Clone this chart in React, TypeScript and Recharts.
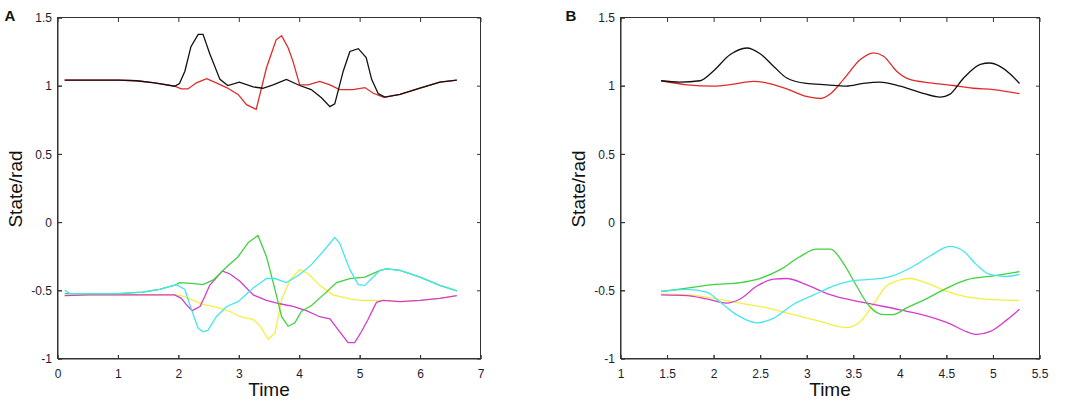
import React from 'react';
import { LineChart, Line, XAxis, YAxis, CartesianGrid } from 'recharts';

type P = [number, number];

// ---------- Panel A ----------
const A_X_TICKS = [0, 1, 2, 3, 4, 5, 6, 7];
const Y_TICKS = [-1, -0.5, 0, 0.5, 1, 1.5];

const A_BLACK: P[] = [
  [0.11, 1.045], [0.5, 1.045], [1.0, 1.045], [1.3, 1.04], [1.6, 1.025], [1.93, 1.0],
  [2.01, 1.02], [2.1, 1.11], [2.2, 1.29], [2.32, 1.38], [2.4, 1.38], [2.51, 1.24],
  [2.68, 1.05], [2.81, 1.005], [3.0, 1.03], [3.23, 0.995], [3.39, 0.985], [3.56, 1.01],
  [3.78, 1.05], [4.0, 1.005], [4.19, 0.975], [4.36, 0.915], [4.5, 0.85], [4.58, 0.87],
  [4.72, 1.11], [4.83, 1.255], [4.97, 1.275], [5.1, 1.21], [5.19, 1.05], [5.3, 0.945],
  [5.41, 0.92], [5.66, 0.94], [5.99, 0.985], [6.32, 1.03], [6.6, 1.045],
];
const A_RED: P[] = [
  [0.11, 1.045], [0.5, 1.045], [1.0, 1.045], [1.3, 1.04], [1.6, 1.025], [1.93, 1.0],
  [2.04, 0.98], [2.15, 0.98], [2.29, 1.025], [2.46, 1.055], [2.62, 1.025], [2.79, 0.99],
  [2.98, 0.94], [3.12, 0.865], [3.28, 0.83], [3.45, 1.135], [3.61, 1.34], [3.7, 1.37],
  [3.81, 1.28], [3.89, 1.18], [4.0, 1.01], [4.14, 1.01], [4.33, 1.035], [4.5, 1.01],
  [4.66, 0.975], [4.88, 0.975], [5.08, 0.99], [5.21, 0.95], [5.38, 0.92], [5.41, 0.92],
  [5.66, 0.94], [5.99, 0.985], [6.32, 1.03], [6.6, 1.045],
];
const A_CYAN: P[] = [
  [0.11, -0.497], [0.2, -0.52], [1.0, -0.52], [1.4, -0.51], [1.68, -0.49], [1.96, -0.455],
  [2.1, -0.49], [2.21, -0.64], [2.32, -0.775], [2.4, -0.8], [2.48, -0.79], [2.62, -0.69],
  [2.79, -0.615], [2.98, -0.58], [3.23, -0.48], [3.45, -0.41], [3.59, -0.41], [3.78, -0.44],
  [4.0, -0.38], [4.19, -0.31], [4.39, -0.21], [4.58, -0.11], [4.66, -0.15], [4.83, -0.345],
  [4.97, -0.455], [5.08, -0.46], [5.19, -0.41], [5.33, -0.35], [5.44, -0.34], [5.66, -0.35],
  [5.99, -0.4], [6.32, -0.46], [6.6, -0.5],
];
const A_GREEN: P[] = [
  [0.11, -0.52], [1.0, -0.52], [1.4, -0.51], [1.68, -0.49], [1.96, -0.455], [2.01, -0.44],
  [2.21, -0.445], [2.4, -0.455], [2.57, -0.42], [2.79, -0.325], [2.98, -0.25], [3.15, -0.145],
  [3.31, -0.095], [3.45, -0.25], [3.59, -0.49], [3.7, -0.69], [3.81, -0.76], [3.92, -0.735],
  [4.03, -0.65], [4.19, -0.61], [4.39, -0.53], [4.61, -0.44], [4.83, -0.41], [5.08, -0.4],
  [5.33, -0.35], [5.44, -0.34], [5.66, -0.35], [5.99, -0.4], [6.32, -0.46], [6.6, -0.5],
];
const A_YELLOW: P[] = [
  [0.11, -0.535], [0.5, -0.53], [1.0, -0.53], [1.5, -0.53], [1.93, -0.53], [2.04, -0.535],
  [2.21, -0.565], [2.4, -0.6], [2.62, -0.62], [2.84, -0.65], [3.01, -0.69], [3.23, -0.71],
  [3.34, -0.755], [3.48, -0.855], [3.59, -0.81], [3.7, -0.565], [3.84, -0.42], [4.0, -0.345],
  [4.14, -0.375], [4.33, -0.46], [4.55, -0.53], [4.83, -0.56], [5.0, -0.57], [5.27, -0.57],
  [5.38, -0.57], [5.66, -0.58], [5.99, -0.57], [6.32, -0.555], [6.6, -0.535],
];
const A_MAGENTA: P[] = [
  [0.11, -0.535], [0.5, -0.53], [1.0, -0.53], [1.5, -0.53], [1.93, -0.53], [2.04, -0.555],
  [2.12, -0.6], [2.22, -0.645], [2.35, -0.615], [2.43, -0.54], [2.51, -0.46], [2.62, -0.405],
  [2.72, -0.355], [2.84, -0.375], [3.01, -0.43], [3.23, -0.53], [3.45, -0.57], [3.67, -0.595],
  [3.89, -0.615], [4.11, -0.645], [4.33, -0.69], [4.5, -0.705], [4.66, -0.8], [4.8, -0.88],
  [4.91, -0.88], [5.02, -0.8], [5.13, -0.71], [5.27, -0.585], [5.38, -0.57], [5.66, -0.58],
  [5.99, -0.57], [6.32, -0.555], [6.6, -0.535],
];

// ---------- Panel B ----------
const B_X_TICKS = [1, 1.5, 2, 2.5, 3, 3.5, 4, 4.5, 5, 5.5];

const B_BLACK: P[] = [
  [1.43, 1.04], [1.63, 1.03], [1.85, 1.04], [1.99, 1.11], [2.17, 1.23], [2.35, 1.28],
  [2.49, 1.24], [2.64, 1.145], [2.78, 1.06], [2.99, 1.02], [3.21, 1.01], [3.42, 1.0],
  [3.6, 1.02], [3.78, 1.03], [4.0, 1.0], [4.21, 0.955], [4.43, 0.92], [4.53, 0.94],
  [4.68, 1.06], [4.86, 1.16], [4.96, 1.17], [5.07, 1.145], [5.18, 1.09], [5.28, 1.02],
];
const B_RED: P[] = [
  [1.43, 1.04], [1.71, 1.01], [1.99, 1.0], [2.21, 1.015], [2.42, 1.035], [2.56, 1.025],
  [2.78, 0.98], [2.99, 0.925], [3.14, 0.91], [3.25, 0.945], [3.39, 1.05], [3.57, 1.195],
  [3.71, 1.245], [3.82, 1.22], [3.96, 1.11], [4.1, 1.05], [4.32, 1.025], [4.57, 1.005],
  [4.78, 0.985], [5.0, 0.975], [5.28, 0.945],
];
const B_GREEN: P[] = [
  [1.43, -0.505], [1.71, -0.48], [1.99, -0.455], [2.28, -0.44], [2.49, -0.41], [2.71, -0.345],
  [2.92, -0.25], [3.1, -0.195], [3.25, -0.195], [3.39, -0.3], [3.53, -0.465], [3.67, -0.615],
  [3.82, -0.675], [3.92, -0.675], [4.07, -0.625], [4.29, -0.555], [4.5, -0.48], [4.71, -0.42],
  [5.0, -0.39], [5.28, -0.36],
];
const B_CYAN: P[] = [
  [1.43, -0.505], [1.71, -0.49], [1.92, -0.51], [2.06, -0.58], [2.24, -0.675], [2.46, -0.735],
  [2.64, -0.7], [2.85, -0.6], [3.07, -0.53], [3.28, -0.465], [3.5, -0.425], [3.71, -0.415],
  [3.92, -0.39], [4.14, -0.32], [4.32, -0.245], [4.53, -0.175], [4.68, -0.21], [4.82, -0.31],
  [4.96, -0.38], [5.14, -0.395], [5.28, -0.38],
];
const B_YELLOW: P[] = [
  [1.43, -0.525], [1.71, -0.53], [1.99, -0.555], [2.28, -0.59], [2.57, -0.625], [2.85, -0.675],
  [3.14, -0.725], [3.42, -0.77], [3.57, -0.725], [3.71, -0.6], [3.85, -0.465], [4.0, -0.42],
  [4.1, -0.41], [4.29, -0.445], [4.5, -0.505], [4.71, -0.545], [5.0, -0.565], [5.28, -0.57],
];
const B_MAGENTA: P[] = [
  [1.43, -0.53], [1.71, -0.535], [1.92, -0.56], [2.13, -0.59], [2.28, -0.56], [2.46, -0.465],
  [2.64, -0.415], [2.78, -0.41], [2.99, -0.455], [3.21, -0.52], [3.42, -0.56], [3.71, -0.6],
  [4.0, -0.64], [4.29, -0.685], [4.53, -0.74], [4.71, -0.8], [4.82, -0.82], [4.96, -0.8],
  [5.14, -0.715], [5.28, -0.635],
];

const COLORS = {
  black: '#111111',
  red: '#e02a2a',
  cyan: '#45e6ee',
  green: '#3fd23f',
  yellow: '#f4f040',
  magenta: '#d43cd0',
};

const toRows = (pts: P[]) => pts.map(([t, v]) => ({ t, v }));

const FONT = '"Liberation Sans", Arial, sans-serif';
const AXIS_COLOR = '#333';
const tickStyle = { fontSize: 12, fill: '#1c1c30', fontFamily: FONT };
const TICK_LEN = 4;
const Y_AXIS_W = 40;
const CHART_H = 407;
const M_TOP = 18;
const M_BOTTOM = 18;
const X_AXIS_H = 30;

type Series = { pts: P[]; color: string };

function Panel(props: {
  left: number;
  width: number;
  marginLeft: number;
  marginRight: number;
  xDomain: [number, number];
  xTicks: number[];
  series: Series[];
  curve: 'linear' | 'monotone';
}) {
  const { left, width, marginLeft, marginRight, xDomain, xTicks, series, curve } = props;
  const plotW = width - marginLeft - Y_AXIS_W - marginRight;
  const plotH = CHART_H - M_TOP - M_BOTTOM - X_AXIS_H;
  return (
    <div style={{ position: 'absolute', left, top: 0, width, height: CHART_H }}>
      <div style={{ position: 'absolute', left: 0, top: 0 }}>
        <LineChart
          width={width}
          height={CHART_H}
          margin={{ top: M_TOP, right: marginRight, bottom: M_BOTTOM, left: marginLeft }}
        >
          {/* inward tick marks on all four sides */}
          <CartesianGrid
            stroke={AXIS_COLOR}
            horizontal={false}
            strokeDasharray={`${TICK_LEN} ${plotH - 2 * TICK_LEN} ${TICK_LEN}`}
          />
          <CartesianGrid
            stroke={AXIS_COLOR}
            vertical={false}
            strokeDasharray={`${TICK_LEN} ${plotW - 2 * TICK_LEN} ${TICK_LEN}`}
          />
          <XAxis
            dataKey="t"
            type="number"
            domain={xDomain}
            ticks={xTicks}
            allowDataOverflow
            height={X_AXIS_H}
            tickSize={-TICK_LEN}
            tickMargin={14}
            tick={tickStyle}
            stroke={AXIS_COLOR}
            interval={0}
          />
          <YAxis
            type="number"
            domain={[-1, 1.5]}
            ticks={Y_TICKS}
            allowDataOverflow
            width={Y_AXIS_W}
            tickSize={-TICK_LEN}
            tickMargin={10}
            tick={tickStyle}
            stroke={AXIS_COLOR}
            interval={0}
          />
          {series.map((s, i) => (
            <Line
              key={i}
              data={toRows(s.pts)}
              dataKey="v"
              type={curve}
              stroke={s.color}
              strokeWidth={1.3}
              dot={false}
              activeDot={false}
              isAnimationActive={false}
            />
          ))}
        </LineChart>
      </div>
      {/* plot frame, laid over the chart */}
      <div
        style={{
          position: 'absolute',
          left: marginLeft + Y_AXIS_W - 1,
          top: M_TOP - 1,
          width: plotW + 1,
          height: plotH + 1,
          border: `1px solid ${AXIS_COLOR}`,
          boxSizing: 'border-box',
          pointerEvents: 'none',
          zIndex: 5,
        }}
      />
    </div>
  );
}

const labelStyle: React.CSSProperties = {
  position: 'absolute',
  fontFamily: FONT,
  fontSize: 19,
  color: '#111',
  whiteSpace: 'nowrap',
  transform: 'translate(-50%, -50%)',
};

export default function App() {
  return (
    <div
      style={{
        position: 'absolute',
        left: 0,
        top: 0,
        width: 1084,
        height: 407,
        background: '#fff',
        overflow: 'hidden',
      }}
    >
      <Panel
        left={0}
        width={540}
        marginLeft={18}
        marginRight={59}
        xDomain={[0, 7]}
        xTicks={A_X_TICKS}
        curve="linear"
        series={[
          { pts: A_RED, color: COLORS.red },
          { pts: A_BLACK, color: COLORS.black },
          { pts: A_YELLOW, color: COLORS.yellow },
          { pts: A_MAGENTA, color: COLORS.magenta },
          { pts: A_GREEN, color: COLORS.green },
          { pts: A_CYAN, color: COLORS.cyan },
        ]}
      />
      <Panel
        left={540}
        width={544}
        marginLeft={41}
        marginRight={44}
        xDomain={[1, 5.5]}
        xTicks={B_X_TICKS}
        curve="monotone"
        series={[
          { pts: B_RED, color: COLORS.red },
          { pts: B_BLACK, color: COLORS.black },
          { pts: B_YELLOW, color: COLORS.yellow },
          { pts: B_MAGENTA, color: COLORS.magenta },
          { pts: B_GREEN, color: COLORS.green },
          { pts: B_CYAN, color: COLORS.cyan },
        ]}
      />
      <div style={{ ...labelStyle, left: 10, top: 15, fontSize: 15, fontWeight: 'bold' }}>A</div>
      <div style={{ ...labelStyle, left: 571, top: 15, fontSize: 15, fontWeight: 'bold' }}>B</div>
      <div style={{ ...labelStyle, left: 269, top: 390 }}>Time</div>
      <div style={{ ...labelStyle, left: 830, top: 390 }}>Time</div>
      <div style={{ ...labelStyle, left: 16, top: 189, transform: 'translate(-50%, -50%) rotate(-90deg)' }}>State/rad</div>
      <div style={{ ...labelStyle, left: 579, top: 189, transform: 'translate(-50%, -50%) rotate(-90deg)' }}>State/rad</div>
    </div>
  );
}
